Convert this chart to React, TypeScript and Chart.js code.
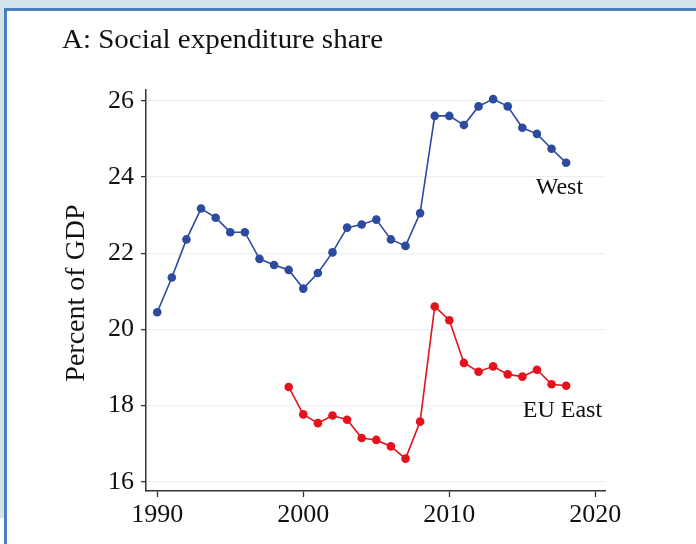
import React, { useEffect, useRef } from 'react';
import { Chart, registerables } from 'chart.js';

Chart.register(...registerables);

const chartTitle = 'A: Social expenditure share';
const yAxisTitle = 'Percent of GDP';

const westYears = [
  1990, 1991, 1992, 1993, 1994, 1995, 1996, 1997, 1998, 1999,
  2000, 2001, 2002, 2003, 2004, 2005, 2006, 2007, 2008, 2009,
  2010, 2011, 2012, 2013, 2014, 2015, 2016, 2017, 2018,
];
const westValues = [
  20.45, 21.36, 22.36, 23.17, 22.93, 22.55, 22.55, 21.85, 21.69, 21.56,
  21.07, 21.48, 22.02, 22.67, 22.75, 22.88, 22.36, 22.19, 23.05, 25.6,
  25.6, 25.36, 25.85, 26.04, 25.85, 25.29, 25.13, 24.74, 24.37,
];

const eastYears = [
  1999, 2000, 2001, 2002, 2003, 2004, 2005, 2006, 2007, 2008,
  2009, 2010, 2011, 2012, 2013, 2014, 2015, 2016, 2017, 2018,
];
const eastValues = [
  18.49, 17.77, 17.54, 17.74, 17.63, 17.15, 17.1, 16.93, 16.61, 17.58,
  20.6, 20.24, 19.12, 18.89, 19.03, 18.82, 18.76, 18.94, 18.56, 18.52,
];

const seriesNames = ['West', 'EU East'];
const seriesColors = ['#2c4a9e', '#e3121d'];
// label anchors (data coordinates, right-aligned text baseline)
const seriesLabelX = [2019.16, 2020.46];
const seriesLabelY = [23.555, 17.71];

const xTickValues = [1990, 2000, 2010, 2020];
const yTickValues = [16, 18, 20, 22, 24, 26];
const xRange = [1989.23, 2020.66];
const yRange = [15.76, 26.28];

const SERIF = '"Liberation Serif", "Times New Roman", serif';

const textPlugin = {
  id: 'customTexts',
  afterDraw(chart: any) {
    const ctx = chart.ctx as CanvasRenderingContext2D;
    const xs = chart.scales.x;
    const ys = chart.scales.y;
    ctx.save();
    ctx.fillStyle = '#111111';
    ctx.textBaseline = 'alphabetic';
    ctx.font = `27px ${SERIF}`;
    ctx.textAlign = 'left';
    const w = ctx.measureText(chartTitle).width;
    const sx = w > 0 ? 321 / w : 1;
    ctx.save();
    ctx.translate(62, 48);
    ctx.scale(sx, 1);
    ctx.fillText(chartTitle, 0, 0);
    ctx.restore();

    ctx.save();
    ctx.translate(84, 293);
    ctx.rotate(-Math.PI / 2);
    ctx.textAlign = 'center';
    ctx.font = `28px ${SERIF}`;
    ctx.fillText(yAxisTitle, 0, 0);
    ctx.restore();

    ctx.font = `24px ${SERIF}`;
    ctx.textAlign = 'right';
    seriesNames.forEach((name, i) => {
      ctx.fillText(name, xs.getPixelForValue(seriesLabelX[i]), ys.getPixelForValue(seriesLabelY[i]));
    });
    ctx.restore();
  },
};

export default function App() {
  const canvasRef = useRef<HTMLCanvasElement | null>(null);

  useEffect(() => {
    document.body.style.margin = '0';
    const canvas = canvasRef.current;
    if (!canvas) return;

    const makeData = (xsArr: number[], ysArr: number[]) =>
      xsArr.map((x, i) => ({ x, y: ysArr[i] }));

    const chart = new Chart(canvas, {
      type: 'line',
      data: {
        datasets: [
          {
            label: seriesNames[0],
            data: makeData(westYears, westValues),
            borderColor: seriesColors[0],
            backgroundColor: seriesColors[0],
            borderWidth: 1.6,
            pointRadius: 4.3,
            pointBorderWidth: 0,
            tension: 0,
          },
          {
            label: seriesNames[1],
            data: makeData(eastYears, eastValues),
            borderColor: seriesColors[1],
            backgroundColor: seriesColors[1],
            borderWidth: 1.6,
            pointRadius: 4.3,
            pointBorderWidth: 0,
            tension: 0,
          },
        ],
      },
      options: {
        animation: false,
        responsive: false,
        devicePixelRatio: 1,
        layout: { padding: { left: 0, top: 90, right: 91, bottom: 0 } },
        plugins: {
          legend: { display: false },
          title: { display: false },
          tooltip: { enabled: false },
        },
        scales: {
          x: {
            type: 'linear',
            min: xRange[0],
            max: xRange[1],
            afterBuildTicks: (s: any) => {
              s.ticks = xTickValues.map((v) => ({ value: v }));
            },
            afterFit: (s: any) => {
              s.height = 53;
            },
            ticks: {
              callback: (v: any) => String(v),
              font: { family: SERIF, size: 26 },
              color: '#111111',
              padding: 3,
              maxRotation: 0,
              autoSkip: false,
            },
            grid: {
              drawOnChartArea: false,
              tickLength: 6,
              tickColor: '#333333',
              tickWidth: 1.3,
            },
            border: { display: true, color: '#333333', width: 1.5 },
          },
          y: {
            type: 'linear',
            min: yRange[0],
            max: yRange[1],
            afterBuildTicks: (s: any) => {
              s.ticks = yTickValues.map((v) => ({ value: v }));
            },
            afterFit: (s: any) => {
              s.width = 146;
            },
            ticks: {
              callback: (v: any) => String(v),
              font: { family: SERIF, size: 26 },
              color: '#111111',
              padding: 7,
              autoSkip: false,
            },
            grid: {
              color: '#e9f1f3',
              lineWidth: 1.2,
              tickLength: 5,
              tickColor: '#333333',
              tickWidth: 1.3,
            },
            border: { display: true, color: '#333333', width: 1.5 },
          },
        },
      },
      plugins: [textPlugin],
    } as any);

    return () => chart.destroy();
  }, []);

  return (
    <div style={{ position: 'fixed', left: 0, top: 0, width: 696, height: 544, background: '#d3e3ec', overflow: 'hidden' }}>
      <div style={{ position: 'absolute', left: 0, top: 518, width: 4, height: 26, background: '#ffffff' }} />
      <div
        style={{
          position: 'absolute',
          left: 4,
          top: 8,
          width: 720,
          height: 560,
          background: '#ffffff',
          borderLeft: '3px solid #4a7fc0',
          borderTop: '3px solid #4a7fc0',
        }}
      />
      <canvas ref={canvasRef} width={696} height={544} style={{ position: 'absolute', left: 0, top: 0, width: 696, height: 544 }} />
    </div>
  );
}
